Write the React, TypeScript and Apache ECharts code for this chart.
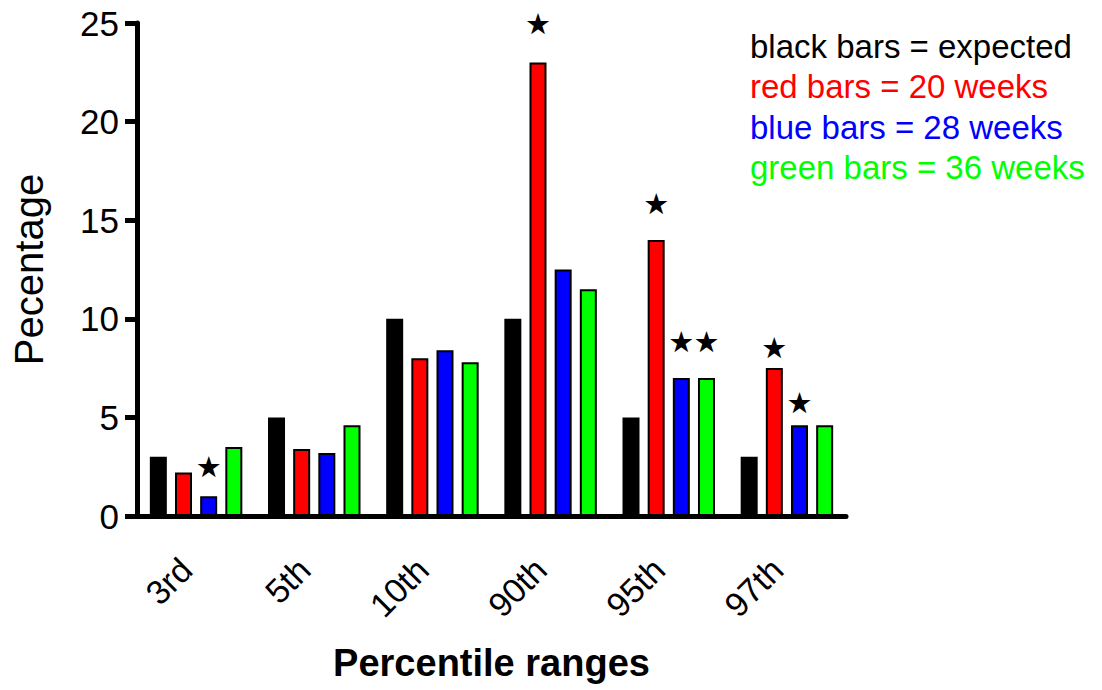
import React, { useEffect, useRef } from "react";
import * as echarts from "echarts";

const categories = ["3rd", "5th", "10th", "90th", "95th", "97th"];
const expected = [3, 5, 10, 10, 5, 3];
const weeks20 = [2.2, 3.4, 8.0, 23.0, 14.0, 7.5];
const weeks28 = [1.0, 3.2, 8.4, 12.5, 7.0, 4.6];
const weeks36 = [3.5, 4.6, 7.8, 11.5, 7.0, 4.6];
const stars20 = [false, false, false, true, true, true];
const stars28 = [true, false, false, false, true, true];
const stars36 = [false, false, false, false, true, false];
const yTicks = [0, 5, 10, 15, 20, 25];
const legendLines = [
  { text: "black bars = expected", color: "#000000" },
  { text: "red bars = 20 weeks", color: "#ff0000" },
  { text: "blue bars = 28 weeks", color: "#0000ff" },
  { text: "green bars = 36 weeks", color: "#00ff00" },
];
// star label offsets above bar tops (styling)
const starGap20 = [0, 0, 0, 24, 21, 6];
const starGap28 = [15, 0, 0, 0, 21, 8];
const starGap36 = [0, 0, 0, 0, 21, 0];

const FONT = "Liberation Sans, Arial, sans-serif";

function withStars(values: number[], stars: boolean[], gaps: number[]) {
  return values.map((v, i) =>
    stars[i]
      ? {
          value: v,
          label: {
            show: true,
            position: "top",
            distance: gaps[i],
            formatter: "★",
            color: "#000",
            fontSize: 29,
            fontFamily: "DejaVu Sans",
          },
        }
      : v
  );
}

export default function App() {
  const ref = useRef<HTMLDivElement>(null);
  useEffect(() => {
    if (!ref.current) return;
    const chart = echarts.init(ref.current, null, { renderer: "svg" });
    const barCommon = {
      type: "bar",
      barWidth: 17,
      barGap: "48%",
    };
    chart.setOption({
      animation: false,
      backgroundColor: "#ffffff",
      grid: { left: 137, right: 256, top: 23, bottom: 174, containLabel: false },
      xAxis: {
        type: "category",
        data: categories,
        boundaryGap: true,
        axisLine: { lineStyle: { color: "#000", width: 5 } },
        axisTick: { alignWithLabel: true, length: 12, lineStyle: { color: "#000", width: 5 } },
        axisLabel: {
          rotate: 45,
          margin: 38,
          padding: [0, 14, 0, 0],
          fontSize: 34,
          color: "#000",
          fontFamily: FONT,
        },
        name: "Percentile ranges",
        nameLocation: "middle",
        nameGap: 128,
        nameTextStyle: { fontSize: 38, fontWeight: "bold", color: "#000", fontFamily: FONT },
      },
      yAxis: {
        type: "value",
        min: yTicks[0],
        max: yTicks[yTicks.length - 1],
        interval: 5,
        splitLine: { show: false },
        axisLine: { show: true, lineStyle: { color: "#000", width: 5 } },
        axisTick: { show: true, length: 12, lineStyle: { color: "#000", width: 5 } },
        axisLabel: { fontSize: 35, color: "#000", fontFamily: FONT, margin: 18 },
        name: "Pecentage",
        nameLocation: "middle",
        nameGap: 88,
        nameRotate: 90,
        nameTextStyle: { fontSize: 40, color: "#000", fontFamily: FONT },
      },
      graphic: legendLines.map((l, i) => ({
        type: "text",
        x: 750,
        y: 46 + i * 40.5,
        style: { text: l.text, fill: l.color, fontSize: 33, fontFamily: FONT, verticalAlign: "middle" },
      })),
      series: [
        { ...barCommon, name: "expected", data: expected, itemStyle: { color: "#000", borderColor: "#000", borderWidth: 0 } },
        { ...barCommon, name: "20 weeks", data: withStars(weeks20, stars20, starGap20), itemStyle: { color: "#ff0000", borderColor: "#000", borderWidth: 2 } },
        { ...barCommon, name: "28 weeks", data: withStars(weeks28, stars28, starGap28), itemStyle: { color: "#0000ff", borderColor: "#000", borderWidth: 2 } },
        { ...barCommon, name: "36 weeks", data: withStars(weeks36, stars36, starGap36), itemStyle: { color: "#00ff00", borderColor: "#000", borderWidth: 2 } },
      ],
    });
    return () => chart.dispose();
  }, []);
  return <div ref={ref} style={{ width: 1102, height: 690, position: "absolute", left: 0, top: 0 }} />;
}
